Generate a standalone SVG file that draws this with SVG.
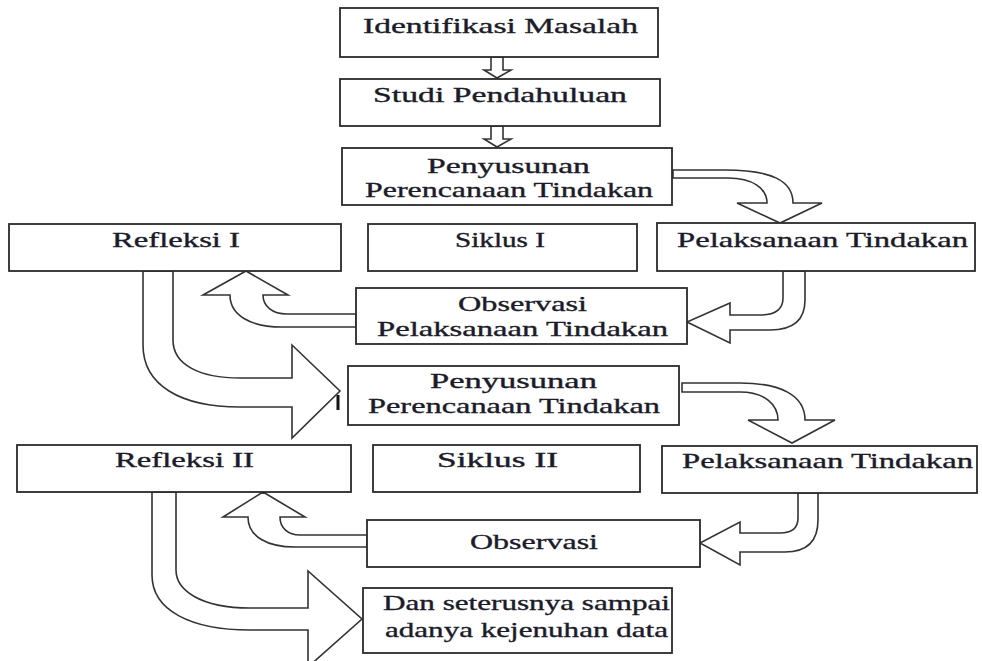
<svg xmlns="http://www.w3.org/2000/svg" width="982" height="661" viewBox="0 0 982 661">
<style>
.box{fill:#fff;stroke:#2a2a2a;stroke-width:1.8}
.arr{fill:#fff;stroke:#333;stroke-width:1.6;stroke-linejoin:miter}
.t{font-family:"Liberation Serif","Times New Roman",serif;font-size:21.5px;fill:#1b1b2a;stroke:#1b1b2a;stroke-width:0.35}
</style>
<rect width="982" height="661" fill="#fff"/>
<g id="connectors">
<path class="arr" d="M491,57 V70 H484 L497,78 L511,70 H503 V57 Z"/>
<path class="arr" d="M491,126 V139 H484 L497,147 L511,139 H503 V126 Z"/>
<path class="arr" d="M673,170 H725 C770,170 793,180 793,203 H822 L780,223 L737,203 H767 C767,188 752,178 728,178 H673 Z"/>
<path class="arr" d="M783,271 V298 C783,310 775,315 760,315 H730 V303 L687,322 L730,343 V330 H770 C795,330 805,318 805,300 V271 Z"/>
<path class="arr" d="M356,314 H287 C272,314 263,306 263,295 H288 L246,271 L203,295 H230 C230,315 250,327 282,327 H356 Z"/>
<path class="arr" d="M143,271 V345 C143,385 180,407 240,407 H292 V438 L340,391 L292,345 V378 H240 C200,378 173,365 173,340 V271 Z"/>
<path class="arr" d="M682,383 H740 C780,383 805,395 805,420 H835 L792,443 L748,420 H778 C778,405 765,392 740,392 H682 Z"/>
<path class="arr" d="M798,493 V518 C798,528 792,533 780,533 H740 V522 L700,543 L740,565 V552 H785 C808,552 818,540 818,520 V493 Z"/>
<path class="arr" d="M367,535 H300 C288,535 280,528 280,517 H305 L263,492 L223,517 H248 C248,537 268,547 295,547 H367 Z"/>
<path class="arr" d="M152,492 V575 C152,610 190,630 250,630 H308 V667 L362,619 L308,571 V608 H250 C200,608 176,590 176,570 V492 Z"/>
<rect x="336.5" y="395" width="3" height="15" fill="#111"/>
</g>
<g id="identifikasi">
<rect class="box" x="340" y="8" width="318" height="49"/>
<text class="t" x="363" y="33" textLength="275" lengthAdjust="spacingAndGlyphs">Identifikasi Masalah</text>
</g>
<g id="studi">
<rect class="box" x="340" y="79" width="320" height="47"/>
<text class="t" x="373" y="102" textLength="254" lengthAdjust="spacingAndGlyphs">Studi Pendahuluan</text>
</g>
<g id="penyusunan1">
<rect class="box" x="342" y="148" width="330" height="57"/>
<text class="t" x="427" y="173" textLength="163" lengthAdjust="spacingAndGlyphs">Penyusunan</text>
<text class="t" x="365" y="197" textLength="288" lengthAdjust="spacingAndGlyphs">Perencanaan Tindakan</text>
</g>
<g id="refleksi1">
<rect class="box" x="9" y="224" width="332" height="47"/>
<text class="t" x="112" y="247" textLength="128" lengthAdjust="spacingAndGlyphs">Refleksi I</text>
</g>
<g id="siklus1">
<rect class="box" x="368" y="224" width="269" height="47"/>
<text class="t" x="455" y="247" textLength="90" lengthAdjust="spacingAndGlyphs">Siklus I</text>
</g>
<g id="pelaksanaan1">
<rect class="box" x="657" y="223" width="318" height="48"/>
<text class="t" x="677" y="247" textLength="291" lengthAdjust="spacingAndGlyphs">Pelaksanaan Tindakan</text>
</g>
<g id="observasi1">
<rect class="box" x="356" y="288" width="331" height="56"/>
<text class="t" x="458" y="311" textLength="129" lengthAdjust="spacingAndGlyphs">Observasi</text>
<text class="t" x="377" y="336" textLength="291" lengthAdjust="spacingAndGlyphs">Pelaksanaan Tindakan</text>
</g>
<g id="penyusunan2">
<rect class="box" x="348" y="366" width="331" height="59"/>
<text class="t" x="430" y="388" textLength="167" lengthAdjust="spacingAndGlyphs">Penyusunan</text>
<text class="t" x="368" y="413" textLength="292" lengthAdjust="spacingAndGlyphs">Perencanaan Tindakan</text>
</g>
<g id="refleksi2">
<rect class="box" x="17" y="445" width="334" height="47"/>
<text class="t" x="115" y="467" textLength="139" lengthAdjust="spacingAndGlyphs">Refleksi II</text>
</g>
<g id="siklus2">
<rect class="box" x="373" y="445" width="267" height="47"/>
<text class="t" x="437" y="467" textLength="121" lengthAdjust="spacingAndGlyphs">Siklus II</text>
</g>
<g id="pelaksanaan2">
<rect class="box" x="662" y="446" width="315" height="47"/>
<text class="t" x="682" y="468" textLength="291" lengthAdjust="spacingAndGlyphs">Pelaksanaan Tindakan</text>
</g>
<g id="observasi2">
<rect class="box" x="367" y="520" width="333" height="47"/>
<text class="t" x="470" y="549" textLength="128" lengthAdjust="spacingAndGlyphs">Observasi</text>
</g>
<g id="dan">
<rect class="box" x="363" y="588" width="309" height="65"/>
<text class="t" x="383" y="610" textLength="287" lengthAdjust="spacingAndGlyphs">Dan seterusnya sampai</text>
<text class="t" x="385" y="637" textLength="283" lengthAdjust="spacingAndGlyphs">adanya kejenuhan data</text>
</g>
</svg>
